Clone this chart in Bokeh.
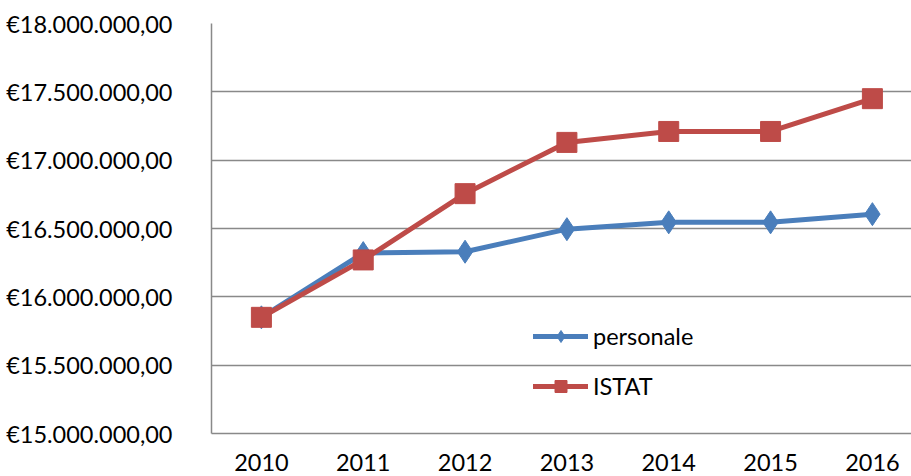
from bokeh.plotting import figure
from bokeh.models import FixedTicker, Legend, LegendItem, Range1d
from bokeh.embed import file_html
from bokeh.resources import INLINE

years = ["2010", "2011", "2012", "2013", "2014", "2015", "2016"]
personale = [15850000, 16320000, 16330000, 16495000, 16545000, 16545000, 16605000]
istat = [15850000, 16270000, 16755000, 17130000, 17210000, 17210000, 17450000]
y_ticks = [15000000, 15500000, 16000000, 16500000, 17000000, 17500000, 18000000]

def eur(v):
    s = f"{v:,.2f}"  # 18,000,000.00
    s = s.replace(",", "X").replace(".", ",").replace("X", ".")
    return "€" + s

xs = list(range(len(years)))
FONT = "Lato"
GRAY = "#898989"

p = figure(width=911, height=476, output_backend="svg", toolbar_location=None,
           x_range=Range1d(-0.49, 6.384), y_range=Range1d(15000000, 18000000),
           min_border_left=211, min_border_right=0, min_border_top=23, min_border_bottom=43)
p.outline_line_color = None
p.background_fill_color = "white"
p.border_fill_color = "white"

p.xgrid.visible = False
p.ygrid.ticker = FixedTicker(ticks=y_ticks)
p.ygrid.grid_line_color = GRAY
p.ygrid.grid_line_width = 1.5

p.yaxis.ticker = FixedTicker(ticks=y_ticks)
p.yaxis.major_label_overrides = {t: eur(t) for t in y_ticks}
p.xaxis.ticker = FixedTicker(ticks=xs)
p.xaxis.major_label_overrides = {i: y for i, y in enumerate(years)}

for ax in (p.xaxis, p.yaxis):
    ax.axis_line_color = GRAY
    ax.axis_line_width = 1.5
    ax.major_tick_line_color = None
    ax.minor_tick_line_color = None
    ax.major_label_text_font = FONT
    ax.major_label_text_font_size = "23.5px"
    ax.major_label_text_color = "black"
p.yaxis.major_label_standoff = 33
p.xaxis.major_label_standoff = 14

BLUE = "#4A7EBB"
RED = "#BE4B48"
bl = p.line(xs, personale, line_color=BLUE, line_width=5, line_cap="round")
bm = p.scatter(xs, personale, marker="diamond", size=23, fill_color=BLUE, line_color=BLUE)
rl = p.line(xs, istat, line_color=RED, line_width=5, line_cap="round")
rm = p.scatter(xs, istat, marker="square", size=20, fill_color=RED, line_color=RED)

legend = Legend(items=[LegendItem(label="personale", renderers=[bl, bm]),
                       LegendItem(label="ISTAT", renderers=[rl, rm])],
                location=(322, 32), orientation="vertical",
                glyph_width=55, glyph_height=30, label_height=30, spacing=20,
                label_standoff=5, padding=0, margin=0,
                border_line_color=None, background_fill_alpha=0,
                label_text_font=FONT, label_text_font_size="23.5px", label_text_color="black")
p.add_layout(legend)

open("out.html", "w").write(file_html(p, INLINE))
